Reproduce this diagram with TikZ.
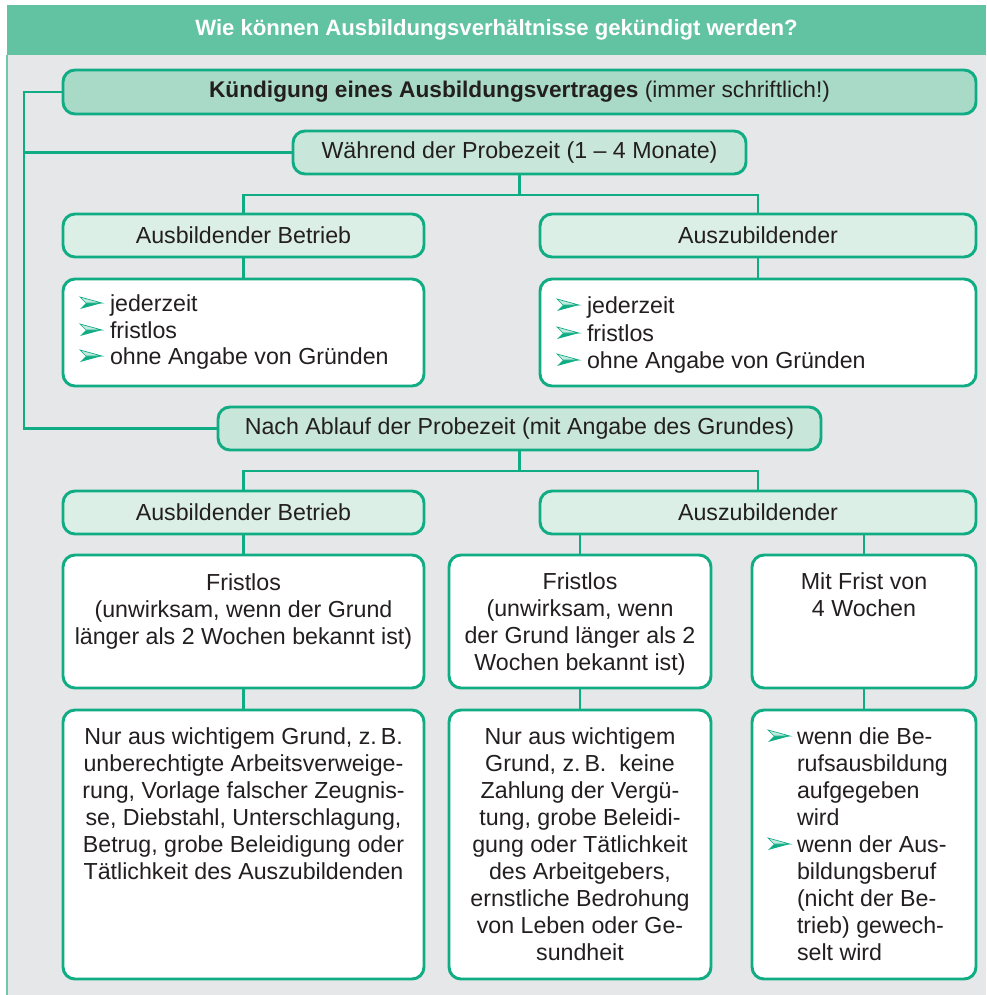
\documentclass[tikz,border=0pt]{standalone}
\usepackage{fontspec}
\setmainfont{Liberation Sans}
\definecolor{txt}{RGB}{35,31,32}
\definecolor{lgreen}{RGB}{16,172,132}
\definecolor{titlebar}{RGB}{98,195,163}
\definecolor{bggrey}{RGB}{230,231,232}
\definecolor{lborder}{RGB}{109,199,168}
\definecolor{fillk}{RGB}{169,217,199}
\definecolor{fillw}{RGB}{200,230,218}
\definecolor{fillab}{RGB}{220,239,230}
\newcommand\fsz{\fontsize{17.4}{20.25}\selectfont}
\begin{document}
\begin{tikzpicture}[x=0.75pt,y=-0.75pt,
  every node/.style={text=txt, font=\fsz},
  conn/.style={draw=lgreen, line width=2.2pt},
  boxbase/.style={draw=lgreen, line width=2.2pt, rounded corners=9pt, inner sep=0pt, outer sep=0pt},
  hdk/.style={boxbase, fill=fillk},
  hdw/.style={boxbase, fill=fillw},
  hda/.style={boxbase, fill=fillab},
  wbox/.style={boxbase, fill=white},
  tx/.style={inner sep=0pt, outer sep=0pt},
  barrow/.pic={
    \fill[lgreen] (6,-8) -- (22,-8) -- (0,-2) -- cycle;
    \filldraw[fill=lgreen!25, draw=lgreen, line width=0.5pt, line join=miter] (0,-14) -- (22,-8) -- (6,-8) -- cycle;
  }
]
\useasboundingbox (0,0) rectangle (986,995);
% frame
\fill[bggrey] (7,55) rectangle (986,995);
\draw[lborder, line width=1.8pt] (7,55) -- (7,995);
\node[fill=titlebar, minimum width=734.25pt, minimum height=37.5pt, inner sep=0pt, text=white, font=\fontsize{16.6}{20}\selectfont\bfseries] (bar) at (496.5,30) {Wie können Ausbildungsverhältnisse gekündigt werden?};

% header boxes
\node[hdk, minimum width=684.75pt, minimum height=33pt, font=\fontsize{17}{20}\selectfont] (k) at (519.5,92) {\textbf{Kündigung eines Ausbildungsvertrages} (immer schriftlich!)};
\node[hdw, minimum width=339.75pt, minimum height=32.25pt] (w) at (519.5,152.5) {Während der Probezeit (1 – 4 Monate)};
\node[hda, minimum width=270.75pt, minimum height=32.25pt] (ab1) at (243.5,235.5) {Ausbildender Betrieb};
\node[hda, minimum width=327pt, minimum height=32.25pt] (az1) at (758,235.5) {Auszubildender};
\node[wbox, minimum width=270.75pt, minimum height=80.25pt] (lb1) at (243.5,332.5) {};
\node[wbox, minimum width=327pt, minimum height=80.25pt] (rb1) at (758,332.5) {};
\node[hdw, minimum width=452.25pt, minimum height=32.25pt] (n) at (519.5,428.5) {Nach Ablauf der Probezeit (mit Angabe des Grundes)};
\node[hda, minimum width=270.75pt, minimum height=32.25pt] (ab2) at (243.5,512.5) {Ausbildender Betrieb};
\node[hda, minimum width=327pt, minimum height=32.25pt] (az2) at (758,512.5) {Auszubildender};
\node[wbox, minimum width=270.75pt, minimum height=99.75pt] (f1) at (243.5,621.5) {};
\node[wbox, minimum width=196.5pt, minimum height=99.75pt] (f2) at (580,621.5) {};
\node[wbox, minimum width=168pt, minimum height=99.75pt] (f3) at (864,621.5) {};
\node[wbox, minimum width=270.75pt, minimum height=201.75pt] (g1) at (243.5,844.5) {};
\node[wbox, minimum width=196.5pt, minimum height=201.75pt] (g2) at (580,844.5) {};
\node[wbox, minimum width=168pt, minimum height=201.75pt] (g3) at (864,844.5) {};

% bullet lists (probation)
\pic at (80,311) {barrow};
\pic at (80,338) {barrow};
\pic at (80,364) {barrow};
\node[tx, anchor=base west] (l1a) at (110,311) {jederzeit};
\node[tx, anchor=base west] (l1b) at (110,338) {fristlos};
\node[tx, anchor=base west] (l1c) at (110,364) {ohne Angabe von Gründen};
\pic at (557,313) {barrow};
\pic at (557,341) {barrow};
\pic at (557,368) {barrow};
\node[tx, anchor=base west] (r1a) at (587,313) {jederzeit};
\node[tx, anchor=base west] (r1b) at (587,341) {fristlos};
\node[tx, anchor=base west] (r1c) at (587,368) {ohne Angabe von Gründen};

% texts after probation
\node[tx, anchor=base] (f1t) at (243.5,590) {\begin{tabular}[t]{@{}c@{}}Fristlos\\(unwirksam, wenn der Grund\\länger als 2 Wochen bekannt ist)\end{tabular}};
\node[tx, anchor=base] (f2t) at (580,589) {\begin{tabular}[t]{@{}c@{}}Fristlos\\(unwirksam, wenn\\der Grund länger als 2\\Wochen bekannt ist)\end{tabular}};
\node[tx, anchor=base] (f3t) at (864,589) {\begin{tabular}[t]{@{}c@{}}Mit Frist von\\4 Wochen\end{tabular}};
\node[tx, anchor=base] (g1t) at (243.5,744) {\begin{tabular}[t]{@{}c@{}}Nur aus wichtigem Grund, z.\,B.\\unberechtigte Arbeitsverweige-\\rung, Vorlage falscher Zeugnis-\\se, Diebstahl, Unterschlagung,\\Betrug, grobe Beleidigung oder\\Tätlichkeit des Auszubildenden\end{tabular}};
\node[tx, anchor=base] (g2t) at (580,744) {\begin{tabular}[t]{@{}c@{}}Nur aus wichtigem\\Grund, z.\,B.\ \ keine\\Zahlung der Vergü-\\tung, grobe Beleidi-\\gung oder Tätlichkeit\\des Arbeitgebers,\\ernstliche Bedrohung\\von Leben oder Ge-\\sundheit\end{tabular}};
\pic at (768,744) {barrow};
\pic at (768,852) {barrow};
\node[tx, anchor=base west] (g3a) at (797,744) {\begin{tabular}[t]{@{}l@{}}wenn die Be-\\rufsausbildung\\aufgegeben\\wird\end{tabular}};
\node[tx, anchor=base west] (g3b) at (797,852) {\begin{tabular}[t]{@{}l@{}}wenn der Aus-\\bildungsberuf\\(nicht der Be-\\trieb) gewech-\\selt wird\end{tabular}};

% connectors
\coordinate (rail) at (24,92);
\coordinate (j1) at (519.5,195);
\coordinate (j2) at (519.5,471);
\draw[conn] (k.west) -- (k.west -| rail) |- (n.west);
\draw[conn] (w.west) -- (w.west -| rail);
\draw[conn] (w.south) -- (j1);
\draw[conn] (ab1.north) |- (j1) -| (az1.north);
\draw[conn] (ab1.south) -- (lb1.north);
\draw[conn] (az1.south) -- (rb1.north);
\draw[conn] (n.south) -- (j2);
\draw[conn] (ab2.north) |- (j2) -| (az2.north);
\draw[conn] (ab2.south) -- (f1.north);
\draw[conn] (az2.south -| f2.north) -- (f2.north);
\draw[conn] (az2.south -| f3.north) -- (f3.north);
\draw[conn] (f1.south) -- (g1.north);
\draw[conn] (f2.south) -- (g2.north);
\draw[conn] (f3.south) -- (g3.north);
\end{tikzpicture}
\end{document}
